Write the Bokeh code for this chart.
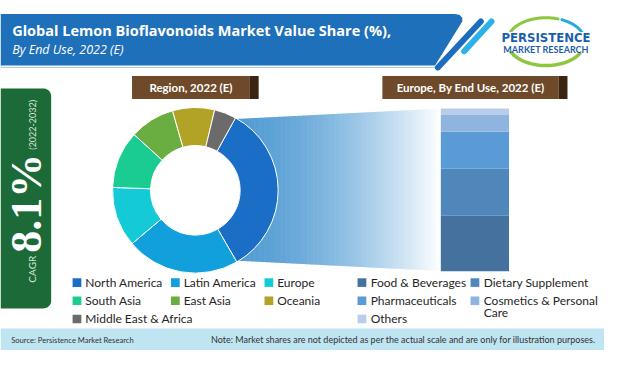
import numpy as np
import textwrap
from bokeh.plotting import figure
from bokeh.models import Range1d
from bokeh.core.properties import value
from bokeh.embed import file_html
from bokeh.resources import INLINE

# ---------------- data ----------------
title = "Global Lemon Bioflavonoids Market Value Share (%),"
subtitle = "By End Use, 2022 (E)"
region_title = "Region, 2022 (E)"
europe_title = "Europe, By End Use, 2022 (E)"

regions = ["North America", "Latin America", "Europe", "South Asia",
           "East Asia", "Oceania", "Middle East & Africa"]
region_share = [33.6, 22.2, 11.7, 11.2, 8.8, 8.2, 4.3]
region_colors = ["#1b6ec6", "#12a0dc", "#13cad6", "#1acb92",
                 "#6aae42", "#b2a226", "#6b6b6b"]

end_uses = ["Food & Beverages", "Dietary Supplement", "Pharmaceuticals",
            "Cosmetics & Personal Care", "Others"]
europe_share = [34.1, 28.9, 22.8, 10.2, 4.0]
end_use_colors = ["#44719d", "#4f87bb", "#5b9bd5", "#8fb4df", "#b9cde9"]

cagr_label = "CAGR"
cagr_value = "8.1%"
cagr_period = "(2022-2032)"
source_text = "Source: Persistence Market Research"
note_text = "Note: Market shares are not depicted as per the actual scale and are only for illustration purposes."
logo_main = "PERSISTENCE"
logo_sub = "MARKET RESEARCH"

# ---------------- canvas ----------------
W, H = 620, 366


def Y(v):
    return H - v


p = figure(width=604, height=350, x_range=Range1d(0, W), y_range=Range1d(0, H),
           x_axis_type=None, y_axis_type=None, output_backend="svg",
           toolbar_location=None, min_border=0)
p.grid.visible = False
p.outline_line_color = None
p.background_fill_color = "white"
p.border_fill_color = "white"

LATO = value("Lato")
OPEN = value("Open Sans")

# ---------------- header band ----------------
band_x = [0, 466, 471, 474, 474, 446, 0]
band_y = [14, 14, 15, 18, 22, 68, 68]
p.patch(band_x, [Y(v) for v in band_y], fill_color="#1f70ba", line_color=None)
p.line([0, 446], [Y(70), Y(70)], line_color="#a9cbe6", line_width=1)
p.segment(x0=[493], y0=[Y(22)], x1=[449], y1=[Y(70)], line_color="#1c6cc0",
          line_width=6, line_cap="round")
p.segment(x0=[504], y0=[Y(22)], x1=[476], y1=[Y(53)], line_color="#2cb2e8",
          line_width=6, line_cap="round")
p.text(x=[12], y=[Y(31)], text=[title], text_font=OPEN, text_font_style="bold",
       text_font_size="14.5px", text_color="white", text_baseline="middle")
p.text(x=[12], y=[Y(51)], text=[subtitle], text_font=OPEN, text_font_style="italic",
       text_font_size="12.5px", text_color="white", text_baseline="middle")

# logo
t = np.linspace(0, 1, 40)
ecx, ecy, erx, ery = 560, Y(43), 40, 25


def ell(a0, a1):
    a = np.deg2rad(a0 + (a1 - a0) * t)
    return ecx + erx * np.cos(a), ecy + ery * np.sin(a)


gx, gy = ell(155, 72)
p.line(gx, gy, line_color="#8dc63f", line_width=3, line_cap="round")
bx, by = ell(66, 22)
p.line(bx, by, line_color="#29a8e0", line_width=3, line_cap="round")
gx2, gy2 = ell(195, 330)
p.line(gx2, gy2, line_color="#8dc63f", line_width=3.5, line_cap="round")
bx2, by2 = ell(186, 196)
p.line(bx2, by2, line_color="#29a8e0", line_width=2.5, line_cap="round")
p.rect(x=[560], y=[Y(43)], width=92, height=20, fill_color="white", line_color=None)
p.text(x=[560], y=[Y(38.5)], text=[logo_main], text_font=value("DejaVu Sans Condensed"),
       text_font_style="bold", text_font_size="13px", text_color="#1d5ea8",
       text_align="center", text_baseline="middle")
p.text(x=[560], y=[Y(51)], text=[logo_sub], text_font=LATO, text_font_style="bold",
       text_font_size="9px", text_color="#1d5ea8", text_align="center",
       text_baseline="middle")

# ---------------- CAGR panel ----------------
r = 8
a = np.linspace(0, np.pi / 2, 12)
cx_top, cy_top = 52 - r, Y(92) - r
cx_bot, cy_bot = 52 - r, Y(322) + r
px = [0] + list(cx_top + r * np.cos(a[::-1])) + list(cx_bot + r * np.cos(a)) + [0]
py = [Y(92)] + list(cy_top + r * np.sin(a[::-1])) + list(cy_bot - r * np.sin(a)) + [Y(322)]
p.patch(px, py, fill_color="#1b6a37", line_color=None)
p.text(x=[32], y=[Y(281)], text=[cagr_label], angle=np.pi / 2, text_font=LATO,
       text_font_size="10px", text_color="#d5e5d9", text_align="center",
       text_baseline="middle")
p.text(x=[27], y=[Y(212)], text=[cagr_value], angle=np.pi / 2,
       text_font=value("Liberation Serif"), text_font_style="bold",
       text_font_size="44px", text_color="white", text_align="center",
       text_baseline="middle")
p.text(x=[33], y=[Y(130)], text=[cagr_period], angle=np.pi / 2, text_font=LATO,
       text_font_size="9px", text_color="#dce8df", text_align="center",
       text_baseline="middle")

# ---------------- section labels ----------------
for (x0, x1, txt) in [(135, 265, region_title), (392, 582, europe_title)]:
    p.quad(left=[x0], right=[x1 - 9], bottom=[Y(103)], top=[Y(79)],
           fill_color="#6f4a2a", line_color=None)
    p.quad(left=[x1 - 9], right=[x1], bottom=[Y(103)], top=[Y(79)],
           fill_color="#3c2413", line_color=None)
    p.text(x=[(x0 + x1 - 9) / 2], y=[Y(91)], text=[txt], text_font=LATO,
           text_font_style="bold", text_font_size="11.5px", text_color="white",
           text_align="center", text_baseline="middle")

# ---------------- funnel (gradient) ----------------
cx, cy = 200, Y(198.5)
R_out, R_in = 85, 46
bar_left, bar_right = 452, 522


def top_edge(x):
    return Y(124 + (x - 241) * (113 - 124) / (452 - 241))


def bot_edge(x):
    return Y(272 + (x - 242) * (283 - 272) / (452 - 242))


n = 100
xs_edges = np.linspace(cx, bar_left, n + 1)
base = np.array([84, 157, 212])
fx, fy, fc = [], [], []
for i in range(n):
    x0, x1 = xs_edges[i], xs_edges[i + 1]
    tm = np.clip(((x0 + x1) / 2 - 245) / (bar_left - 245), 0, 1)
    f = tm ** 1.6
    c = base * (1 - f) + 255 * f
    fx.append([x0, x1 + 0.6, x1 + 0.6, x0])
    fy.append([top_edge(x0), top_edge(x1), bot_edge(x1), bot_edge(x0)])
    fc.append("#%02x%02x%02x" % tuple(int(round(v)) for v in c))
p.patches(fx, fy, fill_color=fc, line_color=None)

# ---------------- donut ----------------
vals = np.array(region_share, dtype=float)
ang = vals / vals.sum() * 2 * np.pi
cum = np.concatenate([[0], np.cumsum(ang)])
offset = np.deg2rad(29)
starts = np.pi / 2 - offset - cum[:-1]
ends = np.pi / 2 - offset - cum[1:]
p.circle(x=[cx], y=[cy], radius=R_in, fill_color="white", line_color=None)
p.annular_wedge(x=cx, y=cy, inner_radius=R_in, outer_radius=R_out,
                start_angle=starts, end_angle=ends, direction="clock",
                fill_color=region_colors, line_color="white", line_width=1)

# ---------------- stacked bar (Europe by end use) ----------------
k = (Y(113) - Y(283)) / 100.0
p.extra_y_ranges = {"share": Range1d(-Y(283) / k, (H - Y(283)) / k)}
ev = np.array(europe_share, dtype=float)
ev = ev / ev.sum() * 100
ec = np.concatenate([[0], np.cumsum(ev)])
p.quad(left=bar_left, right=bar_right, bottom=ec[:-1], top=ec[1:],
       y_range_name="share", fill_color=end_use_colors, line_color=None)

# ---------------- legends ----------------
rows_y = [295, 314, 333]
sq_x = [78.5, 179.5, 275.5]
tx_x = [87, 188, 284]
lx, ly, lc, tx, ty, tt = [], [], [], [], [], []
for i, (name, col) in enumerate(zip(regions, region_colors)):
    c_, r_ = i % 3, i // 3
    lx.append(sq_x[c_]); ly.append(Y(rows_y[r_])); lc.append(col)
    tx.append(tx_x[c_]); ty.append(Y(rows_y[r_])); tt.append(name)

sq_x2 = [371, 487]
tx_x2 = [380, 496]
for i, (name, col) in enumerate(zip(end_uses, end_use_colors)):
    c_, r_ = i % 2, i // 2
    lx.append(sq_x2[c_]); ly.append(Y(rows_y[r_])); lc.append(col)
    for j, line in enumerate(textwrap.wrap(name, 20)):
        tx.append(tx_x2[c_]); ty.append(Y(rows_y[r_] + 12 * j)); tt.append(line)

p.rect(x=lx, y=ly, width=9, height=9, fill_color=lc, line_color=None)
p.text(x=tx, y=ty, text=tt, text_font=LATO, text_font_size="12px",
       text_color="#262626", text_baseline="middle")

# ---------------- footer ----------------
p.quad(left=[0], right=[W], bottom=[0], top=[Y(343)], fill_color="#bfe4f2",
       line_color=None)
p.text(x=[11], y=[Y(355)], text=[source_text], text_font=LATO,
       text_font_size="7.6px", text_color="#333333", text_baseline="middle")
p.text(x=[216], y=[Y(355)], text=[note_text], text_font=LATO,
       text_font_size="9px", text_color="#333333", text_baseline="middle")

open("out.html", "w").write(file_html(p, INLINE))
